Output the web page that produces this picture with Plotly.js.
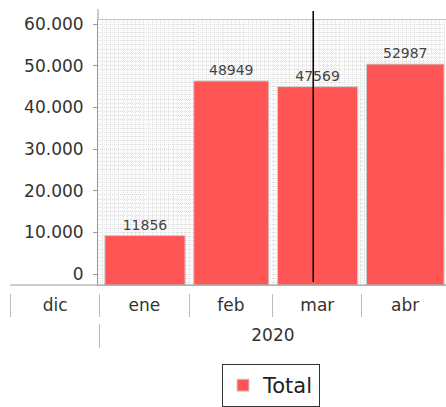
<!DOCTYPE html>
<html><head><meta charset="utf-8">
<script src="https://cdn.plot.ly/plotly-3.0.1.min.js"></script>
<style>html,body{margin:0;padding:0;background:#fff;}#chart{width:446px;height:407px;}</style>
</head><body><div id="chart"></div>
<script>
// ---- data ----
const months = ['2020-01-01','2020-02-01','2020-03-01','2020-04-01'];
const totals = [11856, 48949, 47569, 52987];
const monthStarts = ['2019-12-01','2020-01-01','2020-02-01','2020-03-01','2020-04-01','2020-05-01'];
const monthLabels = ['dic','ene','feb','mar','abr'];
const yearStarts = ['2020-01-01'];
const yearLabels = ['2020'];
const yTickVals = [0,10000,20000,30000,40000,50000,60000];
const todayMarker = '2020-03-15';
const seriesName = 'Total';

// ---- geometry / layout helpers ----
const W = 446, H = 407, ML = 10, MR = 0, MT = 20, MB = 10;
const PH = H - MT - MB, PW = W - ML - MR;
const py = p => (H - MB - p) / PH;
const px = p => (p - ML) / PW;
const xStart = '2019-12-31 04:00', xEnd = '2020-04-30 04:00', helperStart = '2019-11-30 19:50';
const yMin = -2600, yMax = 60960;
function toMs(s){ const iso = s.length <= 10 ? s + 'T00:00:00Z' : s.replace(' ', 'T') + ':00Z'; return Date.parse(iso); }

// bars: centred in their month, 90% of the month wide
const monthMs = months.map(toMs);
const nextMs = months.map(m => { const d = new Date(toMs(m)); d.setUTCMonth(d.getUTCMonth() + 1); return d.getTime(); });
const barX = monthMs.map((m, i) => (m + nextMs[i]) / 2);
const barW = monthMs.map((m, i) => 0.9 * (nextMs[i] - m));

const monthMid = monthLabels.map((_, i) => (toMs(monthStarts[i]) + toMs(monthStarts[i + 1])) / 2);
const yearMid = [(toMs(yearStarts[0]) + toMs(xEnd)) / 2];

const font = 'DejaVu Sans, sans-serif';

const traces = [
  {
    type: 'bar', name: seriesName, x: barX, y: totals, width: barW, base: yMin,
    text: totals.map(String), textposition: 'outside', cliponaxis: false,
    textfont: {family: font, size: 14, color: '#444'},
    marker: {color: '#ff5555', line: {color: '#d0d0d0', width: 1}},
    hoverinfo: 'skip'
  },
  {type: 'scatter', x: [], y: [], xaxis: 'x2', yaxis: 'y2', showlegend: false, hoverinfo: 'skip'},
  {type: 'scatter', x: [], y: [], xaxis: 'x3', yaxis: 'y2', showlegend: false, hoverinfo: 'skip'}
];

const gridStyle = {gridcolor: '#dedede', gridwidth: 1, griddash: '1px,1px'};

const layout = {
  width: W, height: H,
  margin: {l: ML, r: MR, t: MT, b: MB, pad: 0},
  paper_bgcolor: '#fff', plot_bgcolor: '#fbfbfb',
  separators: ',.',
  font: {family: font, color: '#333'},
  showlegend: true,
  bargap: 0,
  xaxis: {
    type: 'date', domain: [px(98), 1], range: [xStart, xEnd],
    showticklabels: false, ticks: '',
    showgrid: true, dtick: 1.45 * 86400000, tick0: xStart, ...gridStyle,
    showline: true, mirror: true, linecolor: '#c8c8c8', linewidth: 1,
    zeroline: false, fixedrange: true
  },
  yaxis: {
    domain: [py(285), 1], range: [yMin, yMax],
    tickmode: 'array', tickvals: yTickVals, tickformat: ',d',
    ticks: 'outside', ticklen: 4, tickcolor: '#999', ticklabelstandoff: 6,
    tickfont: {family: font, size: 17, color: '#333'},
    showgrid: true, ...gridStyle,
    minor: {dtick: 1000, showgrid: true, ...gridStyle},
    showline: true, linecolor: '#999', linewidth: 1,
    zeroline: false, fixedrange: true
  },
  xaxis2: {
    type: 'date', domain: [0, 1], range: [helperStart, xEnd],
    anchor: 'free', position: py(293),
    showline: false, showgrid: false, zeroline: false, ticks: '',
    tickmode: 'array', tickvals: monthMid, ticktext: monthLabels,
    tickfont: {family: font, size: 17, color: '#333'},
    minor: {tickmode: 'array', tickvals: monthStarts, ticks: 'outside', ticklen: 23, tickcolor: '#bbb', tickwidth: 1, showgrid: false},
    fixedrange: true
  },
  xaxis3: {
    type: 'date', domain: [0, 1], range: [helperStart, xEnd],
    anchor: 'free', position: py(323),
    showline: false, showgrid: false, zeroline: false, ticks: '',
    tickmode: 'array', tickvals: yearMid, ticktext: yearLabels,
    tickfont: {family: font, size: 17, color: '#333'},
    minor: {tickmode: 'array', tickvals: yearStarts, ticks: 'outside', ticklen: 24, tickcolor: '#bbb', tickwidth: 1, showgrid: false},
    fixedrange: true
  },
  yaxis2: {domain: [0, 0.002], visible: false, fixedrange: true},
  shapes: [
    {type: 'line', xref: 'paper', yref: 'paper', x0: 0, x1: 1, y0: py(285), y1: py(285), line: {color: '#999', width: 1}},
    {type: 'line', xref: 'paper', yref: 'paper', x0: px(98), x1: px(98), y0: 1, y1: py(9), line: {color: '#999', width: 1}},
    {type: 'line', xref: 'x', yref: 'paper', x0: todayMarker, x1: todayMarker, y0: py(282), y1: py(11), line: {color: '#000', width: 1.5}}
  ],
  legend: {
    orientation: 'h', x: px(271), xanchor: 'center', y: py(364), yanchor: 'top',
    font: {family: font, size: 21, color: '#222'},
    bordercolor: '#333', borderwidth: 1, bgcolor: '#fff',
    itemwidth: 30
  }
};

Plotly.newPlot('chart', traces, layout, {displayModeBar: false, staticPlot: true});
</script>
</body></html>
